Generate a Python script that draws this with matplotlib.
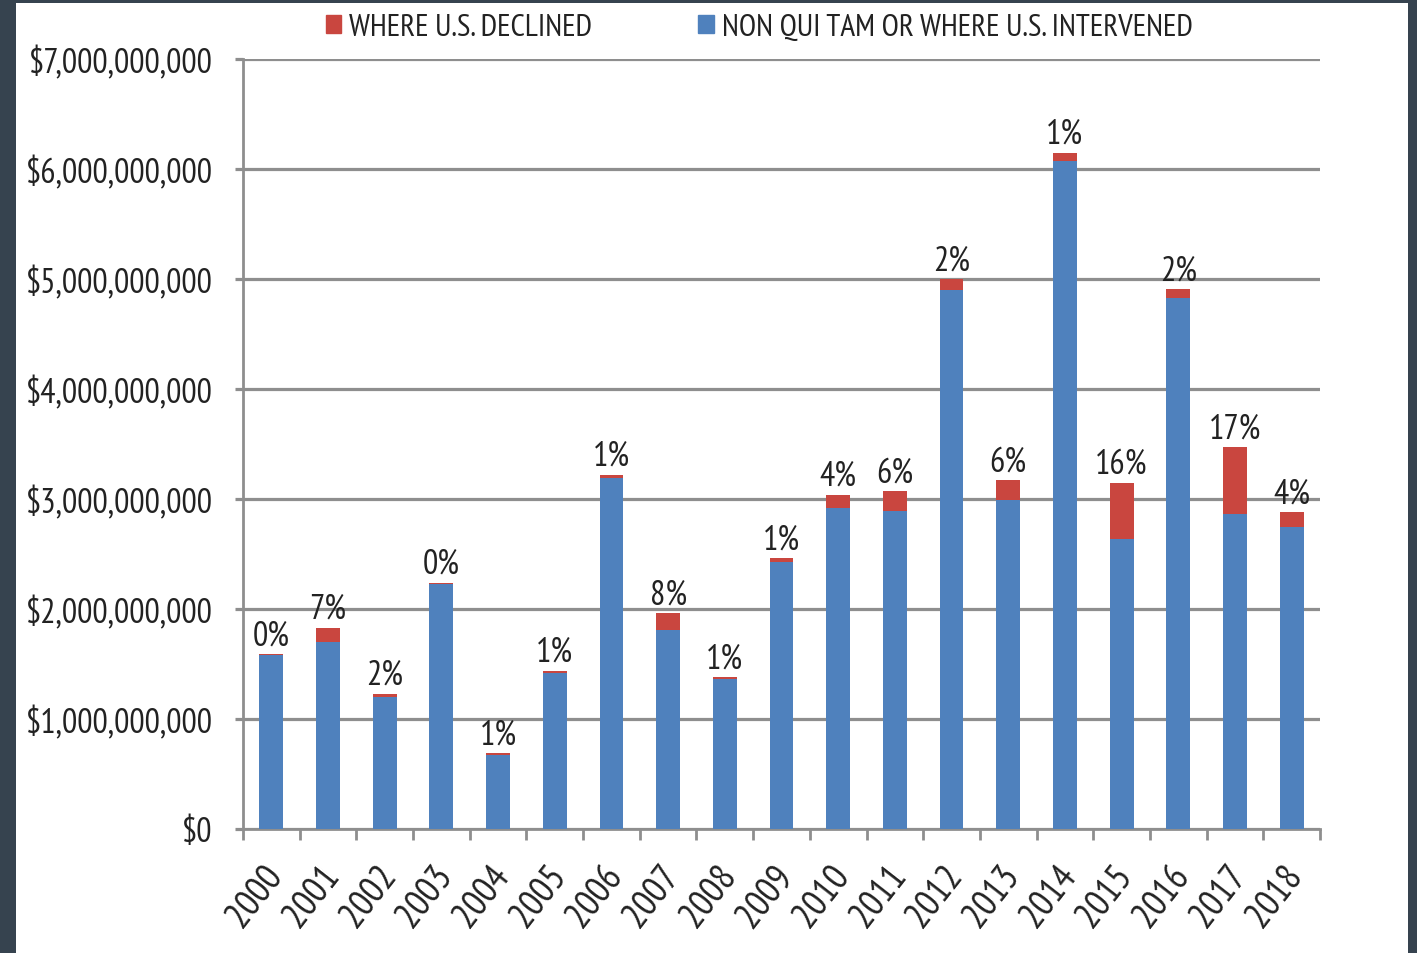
import numpy as np
import matplotlib
matplotlib.use('Agg')
import matplotlib.pyplot as plt
from matplotlib.patches import Rectangle, Patch
from matplotlib.transforms import ScaledTranslation

years = ['2000', '2001', '2002', '2003', '2004', '2005', '2006', '2007', '2008', '2009',
         '2010', '2011', '2012', '2013', '2014', '2015', '2016', '2017', '2018']
# billions of dollars
intervened = [1.58, 1.70, 1.20, 2.23, 0.67, 1.42, 3.19, 1.81, 1.36, 2.43,
              2.92, 2.89, 4.90, 2.99, 6.07, 2.64, 4.83, 2.86, 2.75]
declined = [0.01, 0.13, 0.03, 0.01, 0.02, 0.02, 0.03, 0.15, 0.02, 0.03,
            0.12, 0.18, 0.10, 0.18, 0.08, 0.51, 0.08, 0.61, 0.13]
pct_labels = ['0%', '7%', '2%', '0%', '1%', '1%', '1%', '8%', '1%', '1%',
              '4%', '6%', '2%', '6%', '1%', '16%', '2%', '17%', '4%']
yticks = [0, 1e9, 2e9, 3e9, 4e9, 5e9, 6e9, 7e9]

plt.rcParams['font.family'] = ['PT Sans Narrow', 'Roboto Condensed', 'Carlito', 'DejaVu Sans']
txt = '#222222'
grid_c = '#8e8e8e'
blue = '#4f81bd'
red = '#c9463f'

fig = plt.figure(figsize=(14.17, 9.54), dpi=100)
fig.patch.set_facecolor('#36434f')
# white card behind everything
fig.patches.append(Rectangle((16 / 1417, 0), (1408 - 16) / 1417, 1 - 4 / 954,
                             transform=fig.transFigure, facecolor='white',
                             edgecolor='none', zorder=-10))

ax = fig.add_axes([243 / 1417, 1 - 830 / 954, (1320 - 243) / 1417, (830 - 60) / 954])
ax.set_zorder(2)
ax.set_facecolor('none')

x = np.arange(len(years))
iv = np.array(intervened) * 1e9
dc = np.array(declined) * 1e9
ax.bar(x, iv, width=0.42, color=blue, zorder=3)
ax.bar(x, dc, width=0.42, bottom=iv, color=red, zorder=3)

for i, lab in enumerate(pct_labels):
    ax.annotate(lab, (x[i], iv[i] + dc[i]), xytext=(0, 2), textcoords='offset points',
                ha='center', va='bottom', fontsize=24.5, color=txt)

ax.set_xlim(-0.5, len(years) - 0.5)
ax.set_ylim(0, 7e9)
ax.set_yticks(yticks)
ax.set_yticklabels(['${:,.0f}'.format(v) for v in yticks])
ax.grid(axis='y', color=grid_c, linewidth=2.3, zorder=1)
ax.set_axisbelow(True)

for s in ['top', 'right']:
    ax.spines[s].set_visible(False)
for s in ['left', 'bottom']:
    ax.spines[s].set_color(grid_c)
    ax.spines[s].set_linewidth(2.0)

ax.tick_params(axis='y', length=6, width=2.3, color=grid_c, pad=16,
               labelsize=24.5, labelcolor=txt)
ax.set_xticks(x)
ax.set_xticklabels(years, rotation=52, ha='right', va='top', rotation_mode='anchor')
ax.set_xticks(np.arange(len(years) + 1) - 0.5, minor=True)
ax.tick_params(axis='x', which='major', length=0, pad=21, labelsize=27, labelcolor=txt)
ax.tick_params(axis='x', which='minor', length=8, width=2.0, color=grid_c)
off = ScaledTranslation(-9 / 100, 0, fig.dpi_scale_trans)
for lab in ax.get_xticklabels():
    lab.set_transform(lab.get_transform() + off)

handles = [Patch(color=red, label='WHERE U.S. DECLINED'),
           Patch(color=blue, label='NON QUI TAM OR WHERE U.S. INTERVENED')]
fig.legend(handles=handles, loc='center', bbox_to_anchor=(759 / 1417, 1 - 28 / 954),
           ncol=2, frameon=False, fontsize=22.5, handlelength=0.5, handleheight=0.5,
           handletextpad=0.25, columnspacing=3.4, labelcolor=txt)

fig.savefig('out.png', dpi=100)
